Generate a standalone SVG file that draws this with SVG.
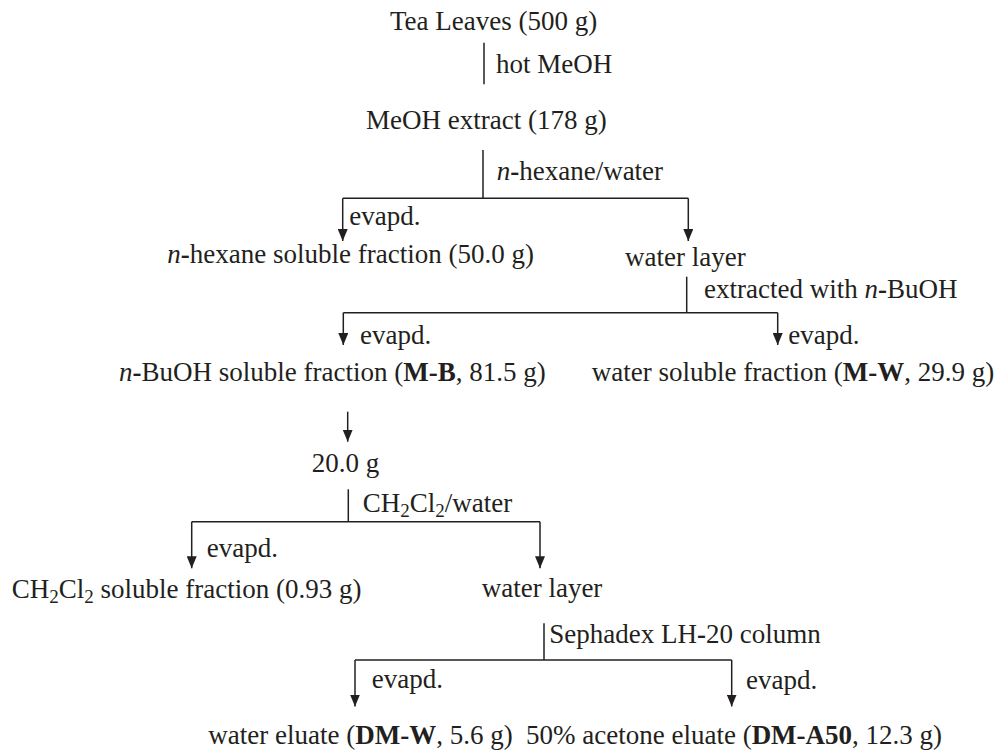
<svg xmlns="http://www.w3.org/2000/svg" width="997" height="750" viewBox="0 0 997 750">
<style>
text{font-family:"Liberation Serif","Times New Roman",serif;font-size:27px;fill:#231f20}
.i{font-style:italic}
.b{font-weight:bold}
.s{font-size:19px}
.ln{fill:none;stroke:#231f20;stroke-width:1.5}
.ar{marker-end:url(#ah)}
</style>
<defs>
<marker id="ah" viewBox="0 0 12 10" refX="12" refY="5" markerWidth="12" markerHeight="10" markerUnits="userSpaceOnUse" orient="auto"><path d="M0,0 L12,5 L0,10 z" fill="#231f20"/></marker>
</defs>
<rect width="997" height="750" fill="#ffffff"/>
<g id="connectors">
<path class="ln" d="M484,42.7 V84.3"/>
<path class="ln" d="M483,150 V198.3"/>
<path class="ln" d="M342.7,198.3 H688.3"/>
<path class="ln ar" d="M342.7,198.3 V241"/>
<path class="ln ar" d="M688.3,198.3 V241"/>
<path class="ln" d="M686.7,276.7 V312.7"/>
<path class="ln" d="M343.3,312.7 H777.7"/>
<path class="ln ar" d="M343.3,312.7 V345"/>
<path class="ln ar" d="M777.7,312.7 V345"/>
<path class="ln ar" d="M347.7,411.7 V441.7"/>
<path class="ln" d="M348.3,489.3 V521.7"/>
<path class="ln" d="M191.7,521.7 H540"/>
<path class="ln ar" d="M191.7,521.7 V568.3"/>
<path class="ln ar" d="M540,521.7 V568.3"/>
<path class="ln" d="M544,623.3 V660"/>
<path class="ln" d="M355,660 H731.7"/>
<path class="ln ar" d="M355,660 V706.5"/>
<path class="ln ar" d="M731.7,660 V706.5"/>
</g>
<g id="labels">
<text x="496" y="72.7">hot MeOH</text>
<text x="496.7" y="180"><tspan class="i">n</tspan><tspan class="b">-</tspan>hexane/water</text>
<text x="349.3" y="225">evapd.</text>
<text x="704" y="298.3">extracted with <tspan class="i">n</tspan><tspan class="b">-</tspan>BuOH</text>
<text x="360" y="344.3">evapd.</text>
<text x="788.3" y="344.3">evapd.</text>
<text x="362.7" y="511.7">CH<tspan class="s" dy="5">2</tspan><tspan dy="-5">Cl</tspan><tspan class="s" dy="5">2</tspan><tspan dy="-5">/water</tspan></text>
<text x="206.7" y="556.7">evapd.</text>
<text x="549.3" y="643">Sephadex LH<tspan class="b">-</tspan>20 column</text>
<text x="371.7" y="688.3">evapd.</text>
<text x="746" y="689">evapd.</text>
</g>
<g id="node-tea"><text x="390" y="29.5">Tea Leaves (500 g)</text></g>
<g id="node-meoh"><text x="366" y="128.5">MeOH extract (178 g)</text></g>
<g id="node-hexane"><text x="167.3" y="263"><tspan class="i">n</tspan><tspan class="b">-</tspan>hexane soluble fraction (50.0 g)</text></g>
<g id="node-water1"><text x="625" y="266">water layer</text></g>
<g id="node-mb"><text x="119" y="381"><tspan class="i">n</tspan><tspan class="b">-</tspan>BuOH soluble fraction (<tspan class="b">M-B</tspan>, 81.5 g)</text></g>
<g id="node-mw"><text x="591.7" y="381">water soluble fraction (<tspan class="b">M-W</tspan>, 29.9 g)</text></g>
<g id="node-20g"><text x="311.7" y="471.7">20.0 g</text></g>
<g id="node-ch2cl2"><text x="11.7" y="598.3">CH<tspan class="s" dy="5">2</tspan><tspan dy="-5">Cl</tspan><tspan class="s" dy="5">2</tspan><tspan dy="-5"> soluble fraction (0.93 g)</tspan></text></g>
<g id="node-water2"><text x="481.7" y="596.7">water layer</text></g>
<g id="node-dmw"><text x="208.3" y="744">water eluate (<tspan class="b">DM-W</tspan>, 5.6 g)</text></g>
<g id="node-dma50"><text x="526" y="744">50% acetone eluate (<tspan class="b">DM-A50</tspan>, 12.3 g)</text></g>
</svg>
